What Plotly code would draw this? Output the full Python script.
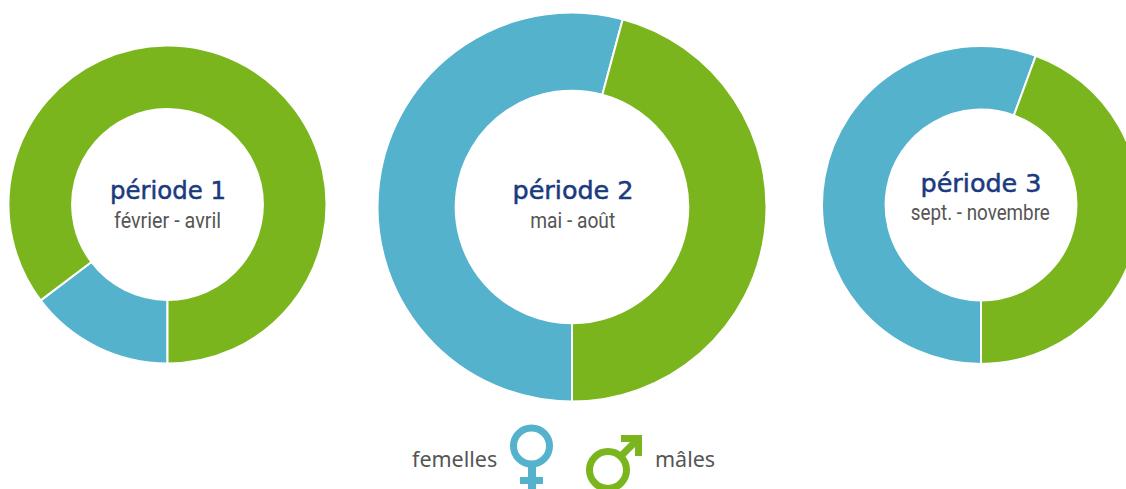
import plotly.graph_objects as go
import json

W, H = 1200, 489
genders = ["femelles", "mâles"]
periods = ["période 1", "période 2", "période 3"]
months = ["février - avril", "mai - août", "sept. - novembre"]
females = [14.7, 54.2, 55.6]
males = [85.3, 45.8, 44.4]
colors = ["#55B2CD", "#7AB51D"]
NAVY = "#1A3A80"
GREY = "#555555"

def px(x): return x / W
def py(y): return 1 - y / H

rings = [(167.5, 204.5, 159, 0.600), (572, 207, 194.5, 0.598), (981, 205, 159, 0.600)]
title_pos = [(168, 191), (572.5, 191), (981, 184)]
sub_pos = [(167, 220.5), (572, 220.5), (980.5, 212.5)]
title_w = [116, 121, 121]
sub_w = [107, 85, 139]

fig = go.Figure()
for i, (cx, cy, r, hole) in enumerate(rings):
    fig.add_trace(go.Pie(
        labels=genders, values=[females[i], males[i]], sort=False,
        direction="clockwise", rotation=180, hole=hole,
        marker=dict(colors=colors, line=dict(color="white", width=2)),
        textinfo="none", hoverinfo="label+percent", showlegend=False,
        domain=dict(x=[px(cx - r), px(cx + r)], y=[py(cy + r), py(cy - r)]),
    ))

def note(x, y, text, size, color, family, weight=400):
    fig.add_annotation(x=px(x), y=py(y), xref="paper", yref="paper", text=text, showarrow=False,
                       xanchor="center", yanchor="middle",
                       font=dict(size=size, color=color, family=family, weight=weight))

for (x, y), t in zip(title_pos, periods):
    note(x, y, t, 24, NAVY, "DejaVu Sans")
for (x, y), t in zip(sub_pos, months):
    note(x, y, t, 22, GREY, "Roboto", 400)
note(454.5, 458.5, genders[0], 21.5, GREY, "Noto Sans")
note(684.5, 458.5, genders[1], 21.5, GREY, "Noto Sans")

def circle(cx, cy, r, color):
    fig.add_shape(type="circle", xref="paper", yref="paper",
                  x0=px(cx - r), x1=px(cx + r), y0=py(cy + r), y1=py(cy - r),
                  line=dict(color=color, width=7), fillcolor="rgba(0,0,0,0)")

def seg(x0, y0, x1, y1, color, w=7):
    fig.add_shape(type="line", xref="paper", yref="paper",
                  x0=px(x0), x1=px(x1), y0=py(y0), y1=py(y1), line=dict(color=color, width=w))

circle(531.5, 446, 18, colors[0])
seg(532, 465, 532, 489, colors[0], 8)
seg(520, 480.5, 543, 480.5, colors[0], 7)
circle(608, 470, 18.5, colors[1])
seg(621, 456, 638, 439, colors[1], 7)
seg(621, 438.5, 642, 438.5, colors[1], 7)
seg(638.5, 435, 638.5, 456, colors[1], 7)

fig.update_layout(width=W, height=H, autosize=False, margin=dict(l=0, r=0, t=0, b=0),
                  paper_bgcolor="white", plot_bgcolor="white")

widths = {t: w for t, w in zip(periods + months, title_w + sub_w)}
post = """
document.body.style.margin='0';document.body.style.overflow='hidden';document.documentElement.style.overflow='hidden';
var widths = %s;
var titles = %s;
document.querySelectorAll('.annotation-text').forEach(function(el){
  var t = el.textContent, w = widths[t];
  if (w) { el.setAttribute('textLength', w); el.setAttribute('lengthAdjust', 'spacingAndGlyphs'); }
  if (titles.indexOf(t) >= 0) { el.style.stroke = '%s'; el.style.strokeWidth = '0.5px'; }
});
""" % (json.dumps(widths), json.dumps(periods), NAVY)
fig.write_html("out.html", post_script=post)
